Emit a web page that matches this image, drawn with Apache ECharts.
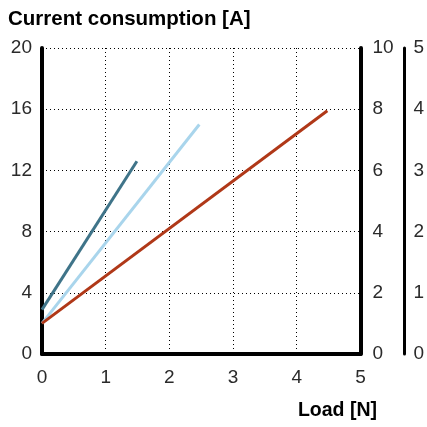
<!DOCTYPE html>
<html><head><meta charset="utf-8">
<script src="https://cdn.jsdelivr.net/npm/echarts@6/dist/echarts.min.js"></script>
<style>html,body{margin:0;padding:0;background:#fff}#c{width:427px;height:427px}</style>
</head><body><div id="c"></div>
<script>
var titleText = "Current consumption [A]";
var xLabel = "Load [N]";
var seriesA = [[0, 2.9], [1.49, 12.6]];
var seriesB = [[0, 2.0], [2.47, 15.0]];
var seriesC = [[0, 2.0], [4.48, 15.9]];
var colors = ["#3f7489", "#a9d5ec", "#b03818"];
var FONT = "Liberation Sans";
var chart = echarts.init(document.getElementById('c'));
var lblStyle = {color: "#2a2a2a", fontSize: 19, fontFamily: FONT};
chart.setOption({
  animation: false,
  title: [
    {text: titleText, left: 3, top: 4, textStyle: {fontSize: 20.5, fontWeight: "bold", fontFamily: FONT, color: "#000"}},
    {text: xLabel, right: 45, top: 396, textStyle: {fontSize: 19.5, fontWeight: "bold", fontFamily: FONT, color: "#000"}}
  ],
  grid: {left: 42, right: 66, top: 48, bottom: 73, containLabel: false},
  xAxis: {
    type: "value", min: 0, max: 5, interval: 1,
    axisLine: {show: true, lineStyle: {color: "#000", width: 4}},
    axisTick: {show: false},
    axisLabel: Object.assign({margin: 14}, lblStyle),
    splitLine: {show: true, lineStyle: {color: "#000", type: [1, 3], width: 1}}
  },
  yAxis: [
    {type: "value", position: "left", min: 0, max: 20, interval: 4,
     axisLine: {show: true, lineStyle: {color: "#000", width: 4}},
     axisTick: {show: false},
     axisLabel: Object.assign({margin: 10}, lblStyle),
     splitLine: {show: true, lineStyle: {color: "#000", type: [1, 3], width: 1}}},
    {type: "value", position: "right", min: 0, max: 10, interval: 2,
     axisLine: {show: true, lineStyle: {color: "#000", width: 4}},
     axisTick: {show: false},
     axisLabel: Object.assign({margin: 12}, lblStyle),
     splitLine: {show: false}},
    {type: "value", position: "right", offset: 44, min: 0, max: 5, interval: 1,
     axisLine: {show: true, lineStyle: {color: "#000", width: 3}},
     axisTick: {show: false},
     axisLabel: Object.assign({margin: 9}, lblStyle),
     splitLine: {show: false}}
  ],
  series: [
    {type: "line", data: seriesA, symbol: "none", lineStyle: {color: colors[0], width: 3}, z: 3},
    {type: "line", data: seriesB, symbol: "none", lineStyle: {color: colors[1], width: 3}, z: 2},
    {type: "line", data: seriesC, symbol: "none", lineStyle: {color: colors[2], width: 3}, z: 2}
  ]
});
</script></body></html>
